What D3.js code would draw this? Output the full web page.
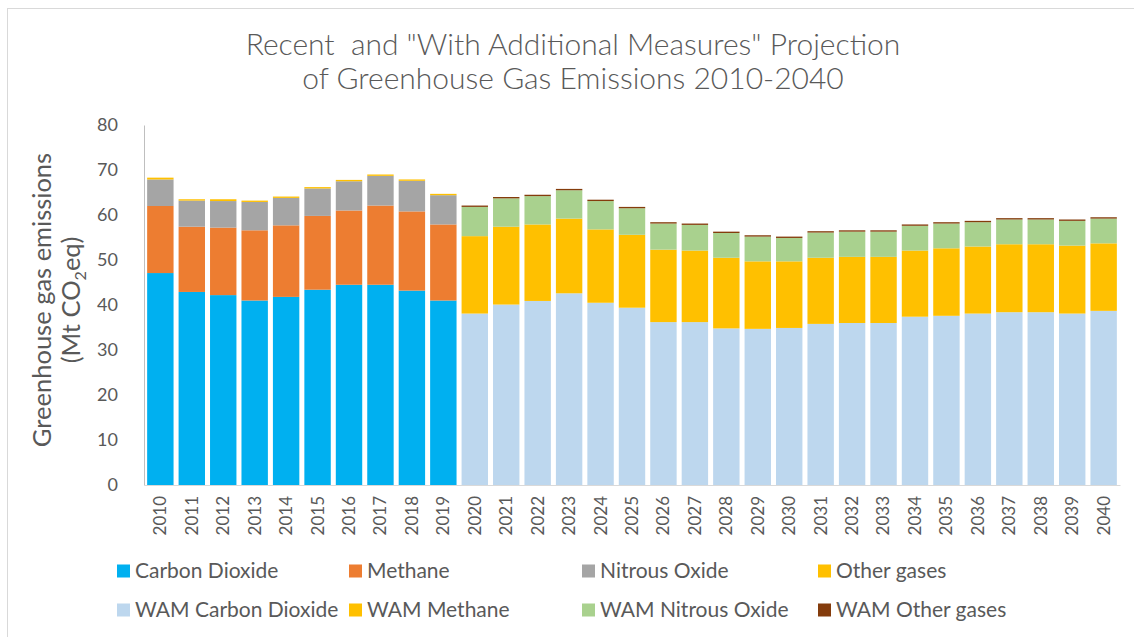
<!DOCTYPE html>
<html>
<head>
<meta charset="utf-8">
<script src="https://cdn.jsdelivr.net/npm/d3@7"></script>
<style>
  html, body { margin: 0; padding: 0; background: #fff; }
  svg { display: block; font-family: Lato, "Open Sans", sans-serif; }
</style>
</head>
<body>
<svg id="chart" width="1134" height="637"></svg>
<script>
// ---- Data ----
const histYears = ["2010","2011","2012","2013","2014","2015","2016","2017","2018","2019"];
const projYears = ["2020","2021","2022","2023","2024","2025","2026","2027","2028","2029","2030",
                   "2031","2032","2033","2034","2035","2036","2037","2038","2039","2040"];

const carbonDioxide = [47.1, 42.9, 42.2, 41.0, 41.8, 43.4, 44.5, 44.5, 43.2, 41.0];
const methane       = [14.9, 14.5, 15.0, 15.6, 15.9, 16.4, 16.5, 17.6, 17.6, 16.9];
const nitrousOxide  = [5.9, 5.8, 5.9, 6.3, 6.1, 6.1, 6.5, 6.6, 6.8, 6.5];
const otherGases    = [0.4, 0.3, 0.4, 0.3, 0.3, 0.3, 0.3, 0.3, 0.3, 0.3];

const wamCarbonDioxide = [38.1, 40.1, 40.9, 42.6, 40.5, 39.4, 36.2, 36.2, 34.8, 34.7, 34.9,
                          35.8, 36.0, 36.0, 37.4, 37.6, 38.1, 38.4, 38.4, 38.1, 38.7];
const wamMethane       = [17.2, 17.3, 17.0, 16.6, 16.3, 16.2, 16.1, 15.9, 15.7, 15.0, 14.8,
                          14.7, 14.7, 14.7, 14.7, 15.0, 14.9, 15.1, 15.1, 15.1, 15.0];
const wamNitrousOxide  = [6.5, 6.3, 6.3, 6.3, 6.3, 5.9, 5.8, 5.7, 5.5, 5.5, 5.2,
                          5.6, 5.6, 5.6, 5.5, 5.5, 5.4, 5.5, 5.5, 5.5, 5.5];
const wamOtherGases    = [0.3, 0.3, 0.3, 0.3, 0.3, 0.3, 0.3, 0.3, 0.3, 0.3, 0.3,
                          0.3, 0.3, 0.3, 0.3, 0.3, 0.3, 0.3, 0.3, 0.3, 0.3];

const yTicks = [0, 10, 20, 30, 40, 50, 60, 70, 80];

const seriesNames = ["Carbon Dioxide", "Methane", "Nitrous Oxide", "Other gases",
                     "WAM Carbon Dioxide", "WAM Methane", "WAM Nitrous Oxide", "WAM Other gases"];
const seriesColors = ["#00B0F0", "#ED7D31", "#A5A5A5", "#FFC000",
                      "#BDD7EE", "#FFC000", "#A9D18E", "#843C0C"];

// ---- Build table ----
const years = histYears.concat(projYears);
const table = years.map((yr, i) => {
  const row = { year: yr };
  seriesNames.forEach(n => row[n] = 0);
  if (i < histYears.length) {
    row["Carbon Dioxide"] = carbonDioxide[i];
    row["Methane"] = methane[i];
    row["Nitrous Oxide"] = nitrousOxide[i];
    row["Other gases"] = otherGases[i];
  } else {
    const j = i - histYears.length;
    row["WAM Carbon Dioxide"] = wamCarbonDioxide[j];
    row["WAM Methane"] = wamMethane[j];
    row["WAM Nitrous Oxide"] = wamNitrousOxide[j];
    row["WAM Other gases"] = wamOtherGases[j];
  }
  return row;
});

const stacked = d3.stack().keys(seriesNames)(table);

// ---- Layout ----
const svg = d3.select("#chart");
const plotLeft = 144, plotRight = 1120, plotTop = 125, plotBottom = 485;
const textColor = "#595959";

// frame
svg.append("rect")
  .attr("x", 7.5).attr("y", 8.5).attr("width", 1140).attr("height", 640)
  .attr("fill", "none").attr("stroke", "#D9D9D9").attr("stroke-width", 1);

const x = d3.scaleBand().domain(years).range([plotLeft, plotRight]).paddingInner(0.16).paddingOuter(0.1);
const y = d3.scaleLinear().domain([0, 80]).range([plotBottom, plotTop]);
const color = d3.scaleOrdinal().domain(seriesNames).range(seriesColors);

// bars
svg.append("g").selectAll("g")
  .data(stacked)
  .join("g")
  .attr("fill", d => color(d.key))
  .selectAll("rect")
  .data(d => d.filter(s => s[1] - s[0] > 0))
  .join("rect")
  .attr("x", d => x(d.data.year))
  .attr("width", x.bandwidth())
  .attr("y", d => y(d[1]))
  .attr("height", d => y(d[0]) - y(d[1]));

// y axis
const yAxis = svg.append("g")
  .attr("transform", `translate(${plotLeft},0)`)
  .call(d3.axisLeft(y).tickValues(yTicks).tickSize(0).tickPadding(26));
yAxis.select(".domain").attr("stroke", "#BFBFBF");
yAxis.selectAll("text").attr("fill", textColor).style("font-size", "18px")
  .style("font-family", "Lato, sans-serif");

// x axis
const xAxis = svg.append("g")
  .attr("transform", `translate(0,${plotBottom})`)
  .call(d3.axisBottom(x).tickSize(0).tickSizeOuter(0).tickPadding(0));
xAxis.select(".domain").attr("stroke", "#D9D9D9");
xAxis.selectAll("text")
  .attr("fill", textColor)
  .style("font-size", "17px")
  .style("font-family", "Lato, sans-serif")
  .attr("text-anchor", "end")
  .attr("transform", "translate(0,11) rotate(-90)")
  .attr("x", 0).attr("y", 0).attr("dy", "0.35em");

// title
const title = svg.append("text")
  .attr("text-anchor", "middle")
  .attr("fill", textColor)
  .style("white-space", "pre")
  .style("font-weight", "300")
  .style("font-size", "30px");
title.append("tspan").attr("x", 573).attr("y", 55).text('Recent  and "With Additional Measures" Projection');
title.append("tspan").attr("x", 573).attr("y", 89).text("of Greenhouse Gas Emissions 2010-2040");

// y axis title
const yt = svg.append("g").attr("transform", "translate(0,300)");
yt.append("text")
  .attr("transform", "translate(51,0) rotate(-90)")
  .attr("text-anchor", "middle")
  .attr("fill", textColor)
  .style("font-size", "25.5px")
  .text("Greenhouse gas emissions");
const yt2 = yt.append("text")
  .attr("transform", "translate(80,0) rotate(-90)")
  .attr("text-anchor", "middle")
  .attr("fill", textColor)
  .style("font-size", "25.5px");
yt2.append("tspan").text("(Mt CO");
yt2.append("tspan").attr("dy", 6).style("font-size", "16px").text("2");
yt2.append("tspan").attr("dy", -6).text("eq)");

// legend
const legendCols = [117, 349, 582, 818];
const legendRows = [571, 610];
const legend = svg.append("g");
seriesNames.forEach((name, i) => {
  const cx = legendCols[i % 4];
  const cy = legendRows[Math.floor(i / 4)];
  legend.append("rect")
    .attr("x", cx).attr("y", cy - 6.5).attr("width", 13).attr("height", 13)
    .attr("fill", color(name));
  legend.append("text")
    .attr("x", cx + 18).attr("y", cy)
    .attr("dy", "0.35em")
    .attr("fill", textColor)
    .style("font-size", "21px")
    .text(name);
});
</script>
</body>
</html>
